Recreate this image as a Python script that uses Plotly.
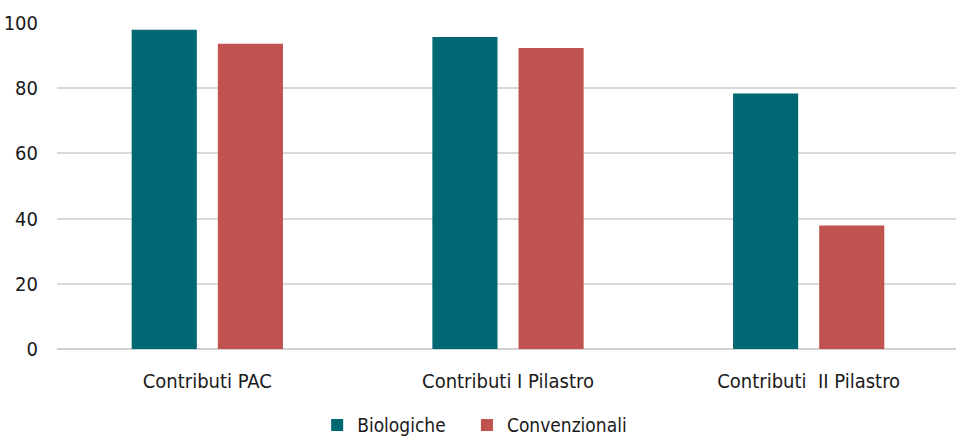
import plotly.graph_objects as go

CATEGORIES = ["Contributi PAC", "Contributi I Pilastro", "Contributi  II Pilastro"]
SERIES = ["Biologiche", "Convenzionali"]
BIOLOGICHE = [97.9, 95.7, 78.4]
CONVENZIONALI = [93.6, 92.3, 37.9]
Y_TICKS = [0, 20, 40, 60, 80, 100]

FONT = "DejaVu Sans Condensed, Roboto, sans-serif"
TEAL = "rgb(0, 104, 114)"
RED = "rgb(192, 82, 79)"
PAD = "\u00a0" * 3  # widen the gap between the two legend entries

fig = go.Figure()
fig.add_trace(go.Bar(
    x=CATEGORIES, y=BIOLOGICHE, name=SERIES[0] + PAD,
    marker=dict(color=TEAL, line=dict(width=0)),
))
fig.add_trace(go.Bar(
    x=CATEGORIES, y=CONVENZIONALI, name=SERIES[1],
    marker=dict(color=RED, line=dict(width=0)),
))

fig.update_layout(
    width=956,
    height=437,
    margin=dict(l=57, r=0, t=23, b=88, autoexpand=False),
    paper_bgcolor="white",
    plot_bgcolor="white",
    font=dict(family=FONT, size=20, color="#1a1a1a"),
    barmode="group",
    bargap=0.427,
    bargroupgap=0.244,
    showlegend=True,
    legend=dict(
        orientation="h", x=0.2894, xanchor="left", y=-0.175, yanchor="top",
        font=dict(size=19), itemwidth=30, traceorder="normal",
    ),
    xaxis=dict(
        showgrid=False, showline=False, ticks="",
        tickfont=dict(size=20), range=[-0.5, 2.49], ticklabelstandoff=18,
    ),
    yaxis=dict(
        range=[0, 100], tickvals=Y_TICKS, showgrid=True,
        gridcolor="#d9d9d9", gridwidth=2, zeroline=True,
        zerolinecolor="#d0d0d0", zerolinewidth=2,
        tickfont=dict(size=20), ticks="", ticklabelstandoff=18,
    ),
)

# drop the browser's default body margin so the figure sits at the page corner
fig.write_html(
    "out.html",
    config={"displayModeBar": False},
    post_script="document.body.style.margin = '0';",
)
